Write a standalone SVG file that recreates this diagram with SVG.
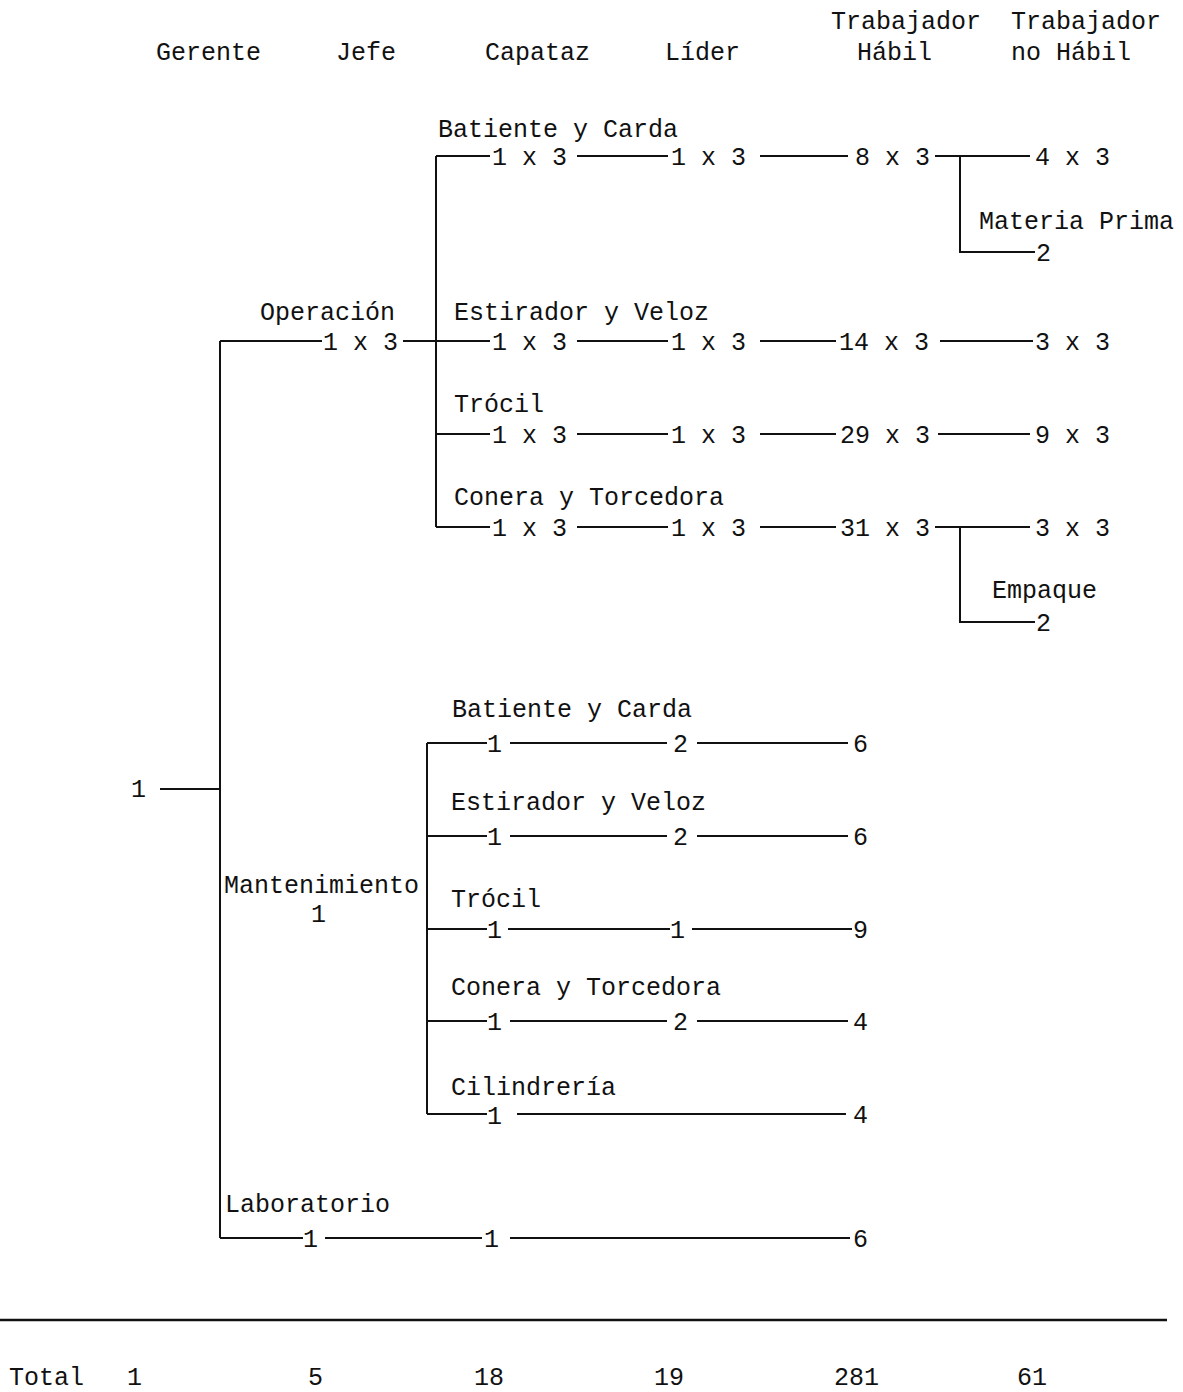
<svg xmlns="http://www.w3.org/2000/svg" width="1183" height="1392" viewBox="0 0 1183 1392">
<style>
text{font-family:"Liberation Mono","DejaVu Sans Mono",monospace;font-size:25px;fill:#111}
.c path{fill:none;stroke:#111;stroke-width:2}
</style>
<rect width="1183" height="1392" fill="#fff"/>
<g id="header">
<text x="156" y="60">Gerente</text>
<text x="336" y="60">Jefe</text>
<text x="485" y="60">Capataz</text>
<text x="665" y="60">Líder</text>
<text x="831" y="29">Trabajador</text>
<text x="857" y="60">Hábil</text>
<text x="1011" y="29">Trabajador</text>
<text x="1011" y="60">no Hábil</text>
</g>
<g class="c" id="connectors">
<path d="M160,789 H220 M220,341 V1238"/>
<path d="M220,341 H322 M403,341 H490"/>
<path d="M436,156 V527"/>
<path d="M436,156 H490 M577,156 H668 M760,156 H848 M935,156 H1030 M960,156 V252 H1035"/>
<path d="M577,341 H668 M760,341 H836 M940,341 H1033"/>
<path d="M436,434 H490 M577,434 H668 M760,434 H836 M938,434 H1030"/>
<path d="M436,527 H490 M577,527 H668 M760,527 H836 M935,527 H1030 M960,527 V622 H1035"/>
<path d="M427,743 V1114"/>
<path d="M427,743 H487 M510,743 H667 M697,743 H848"/>
<path d="M427,836 H487 M510,836 H667 M697,836 H848"/>
<path d="M427,929 H487 M508,929 H670 M692,929 H852"/>
<path d="M427,1021 H487 M510,1021 H667 M697,1021 H848"/>
<path d="M427,1114 H487 M517,1114 H846"/>
<path d="M220,1238 H303 M325,1238 H482 M510,1238 H850"/>
<path d="M0,1320 H1167" style="stroke-width:2.5"/>
</g>
<g id="gerente"><text x="131" y="797">1</text></g>
<g id="operacion">
<text x="260" y="320">Operación</text>
<text x="323" y="350">1 x 3</text>
</g>
<g id="op-batiente">
<text x="438" y="137">Batiente y Carda</text>
<text x="492" y="165">1 x 3</text>
<text x="671" y="165">1 x 3</text>
<text x="855" y="165">8 x 3</text>
<text x="1035" y="165">4 x 3</text>
</g>
<g id="op-materia">
<text x="979" y="229">Materia Prima</text>
<text x="1036" y="261">2</text>
</g>
<g id="op-estirador">
<text x="454" y="320">Estirador y Veloz</text>
<text x="492" y="350">1 x 3</text>
<text x="671" y="350">1 x 3</text>
<text x="839" y="350">14 x 3</text>
<text x="1035" y="350">3 x 3</text>
</g>
<g id="op-trocil">
<text x="454" y="412">Trócil</text>
<text x="492" y="443">1 x 3</text>
<text x="671" y="443">1 x 3</text>
<text x="840" y="443">29 x 3</text>
<text x="1035" y="443">9 x 3</text>
</g>
<g id="op-conera">
<text x="454" y="505">Conera y Torcedora</text>
<text x="492" y="536">1 x 3</text>
<text x="671" y="536">1 x 3</text>
<text x="840" y="536">31 x 3</text>
<text x="1035" y="536">3 x 3</text>
</g>
<g id="op-empaque">
<text x="992" y="598">Empaque</text>
<text x="1036" y="631">2</text>
</g>
<g id="mantenimiento">
<text x="224" y="893">Mantenimiento</text>
<text x="311" y="922">1</text>
</g>
<g id="mt-batiente">
<text x="452" y="717">Batiente y Carda</text>
<text x="487" y="752">1</text>
<text x="673" y="752">2</text>
<text x="853" y="752">6</text>
</g>
<g id="mt-estirador">
<text x="451" y="810">Estirador y Veloz</text>
<text x="487" y="845">1</text>
<text x="673" y="845">2</text>
<text x="853" y="845">6</text>
</g>
<g id="mt-trocil">
<text x="451" y="907">Trócil</text>
<text x="487" y="938">1</text>
<text x="670" y="938">1</text>
<text x="853" y="938">9</text>
</g>
<g id="mt-conera">
<text x="451" y="995">Conera y Torcedora</text>
<text x="487" y="1030">1</text>
<text x="673" y="1030">2</text>
<text x="853" y="1030">4</text>
</g>
<g id="mt-cilindreria">
<text x="451" y="1095">Cilindrería</text>
<text x="487" y="1124">1</text>
<text x="853" y="1123">4</text>
</g>
<g id="laboratorio">
<text x="225" y="1212">Laboratorio</text>
<text x="303" y="1247">1</text>
<text x="484" y="1247">1</text>
<text x="853" y="1247">6</text>
</g>
<g id="totals">
<text x="9" y="1385">Total</text>
<text x="127" y="1385">1</text>
<text x="308" y="1385">5</text>
<text x="474" y="1385">18</text>
<text x="654" y="1385">19</text>
<text x="834" y="1385">281</text>
<text x="1017" y="1385">61</text>
</g>
</svg>
